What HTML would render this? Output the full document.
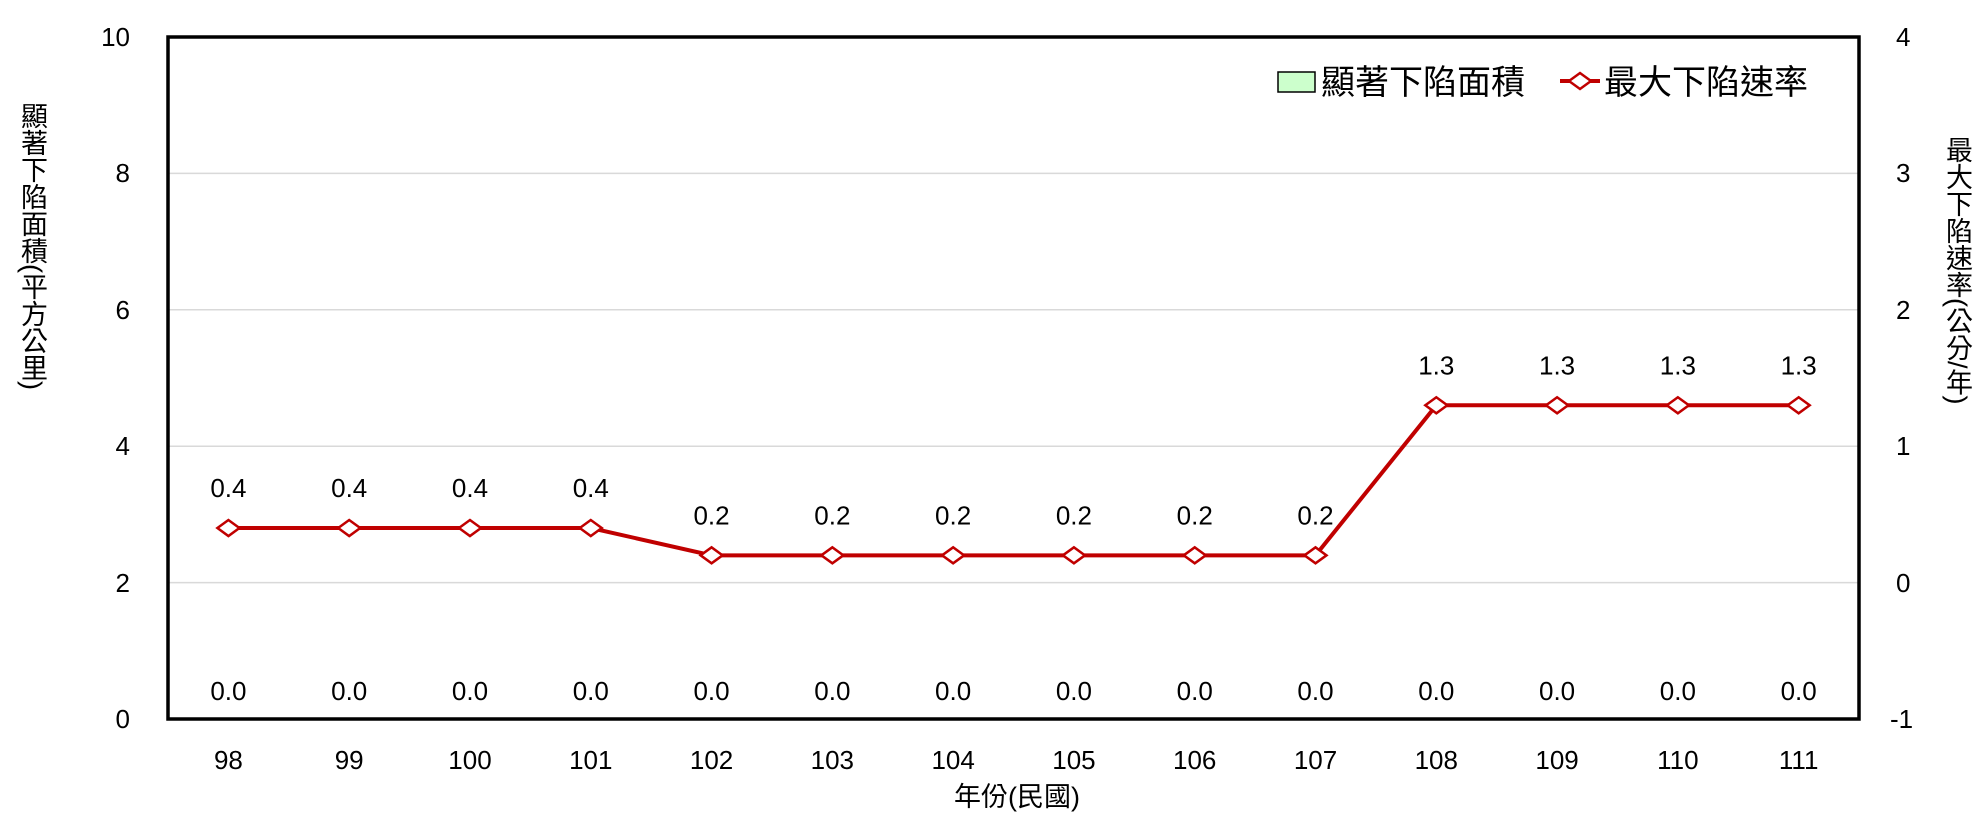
<!DOCTYPE html>
<html><head><meta charset="utf-8"><style>
html,body{margin:0;padding:0;background:#fff;}
svg text{font-family:"Liberation Sans","Noto Sans CJK TC",sans-serif;fill:#000;}
.vt{position:absolute;writing-mode:vertical-rl;font-family:"Liberation Sans","Noto Sans CJK TC",sans-serif;font-size:27px;line-height:27px;color:#000;white-space:nowrap;}
</style></head><body>
<div style="position:relative;width:1986px;height:827px;">
<svg width="1986" height="827" xmlns="http://www.w3.org/2000/svg" style="position:absolute;left:0;top:0">
<g stroke="#d9d9d9" stroke-width="1.5">
<line x1="168" x2="1859" y1="173.4" y2="173.4"/>
<line x1="168" x2="1859" y1="309.8" y2="309.8"/>
<line x1="168" x2="1859" y1="446.2" y2="446.2"/>
<line x1="168" x2="1859" y1="582.6" y2="582.6"/>
</g>
<rect x="168" y="37" width="1691" height="682" fill="none" stroke="#000" stroke-width="3.5"/>
<g font-size="26" text-anchor="end">
<text x="130" y="728">0</text><text x="130" y="592">2</text><text x="130" y="455">4</text><text x="130" y="319">6</text><text x="130" y="182">8</text><text x="130" y="46">10</text>
</g>
<g font-size="26" text-anchor="start">
<text x="1890" y="728">-1</text><text x="1896" y="592">0</text><text x="1896" y="455">1</text><text x="1896" y="319">2</text><text x="1896" y="182">3</text><text x="1896" y="46">4</text>
</g>
<g font-size="26" text-anchor="middle" id="xl"></g>
<polyline fill="none" stroke="#c00000" stroke-width="4" id="ln" points=""/>
<g id="mk"></g>
<g font-size="26" text-anchor="middle" id="lb"></g>
<text x="1017" y="806" font-size="27" text-anchor="middle">年份(民國)</text>
<rect x="1278" y="72" width="37" height="20" fill="#ccffcc" stroke="#000" stroke-width="1.5"/>
<text x="1321" y="94" font-size="34">顯著下陷面積</text>
<line x1="1560" x2="1600" y1="81" y2="81" stroke="#c00000" stroke-width="4"/>
<polygon points="1569,81 1580,73 1591,81 1580,89" fill="#fff" stroke="#c00000" stroke-width="2.5"/>
<text x="1604" y="94" font-size="34">最大下陷速率</text>
</svg>
<div class="vt" style="left:18px;top:102px;">顯著下陷面積(平方公里)</div>
<div class="vt" style="left:1943px;top:136px;">最大下陷速率(公分/年)</div>
</div>
<script>
var yrs=[98,99,100,101,102,103,104,105,106,107,108,109,110,111];
var r=[0.4,0.4,0.4,0.4,0.2,0.2,0.2,0.2,0.2,0.2,1.3,1.3,1.3,1.3];
var ns="http://www.w3.org/2000/svg",pts=[];
function t(g,x,y,s){var e=document.createElementNS(ns,"text");e.setAttribute("x",x);e.setAttribute("y",y);e.textContent=s;document.getElementById(g).appendChild(e);}
for(var i=0;i<14;i++){var x=168+60.4+i*120.79;var y=719-(r[i]+1)*136.4;pts.push(x+","+y);
t("xl",x,769,yrs[i]);t("lb",x,700,"0.0");t("lb",x,y-31,r[i].toFixed(1));
var p=document.createElementNS(ns,"polygon");p.setAttribute("points",(x-11)+","+y+" "+x+","+(y-8)+" "+(x+11)+","+y+" "+x+","+(y+8));p.setAttribute("fill","#fff");p.setAttribute("stroke","#c00000");p.setAttribute("stroke-width","2.5");document.getElementById("mk").appendChild(p);}
document.getElementById("ln").setAttribute("points",pts.join(" "));
</script>
</body></html>
